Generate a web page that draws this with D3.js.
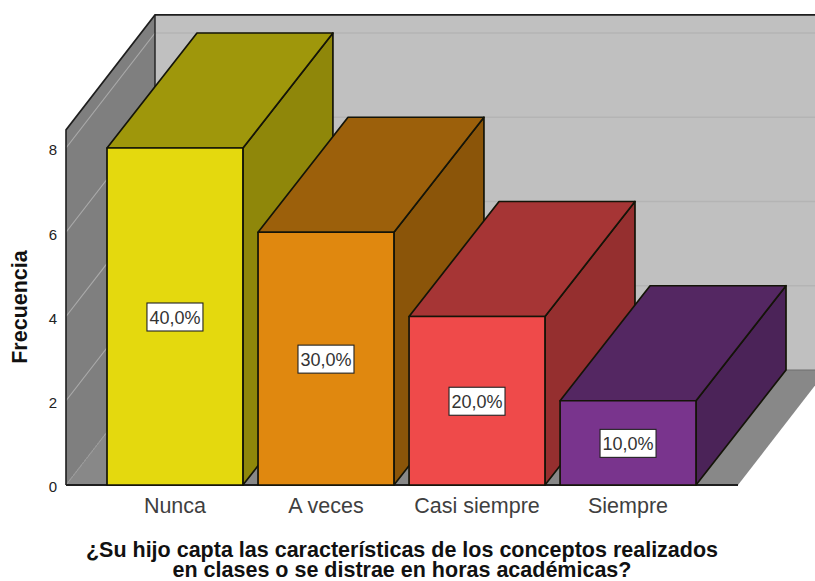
<!DOCTYPE html>
<html><head><meta charset="utf-8">
<script src="https://cdn.jsdelivr.net/npm/d3@7/dist/d3.min.js"></script>
<style>html,body{margin:0;padding:0;background:#fff}svg{display:block}text{font-family:"Liberation Sans",Arial,sans-serif}</style>
</head><body><svg id="c" width="815" height="581"></svg>
<script>
const categories = ["Nunca","A veces","Casi siempre","Siempre"];
const frequency = [8,6,4,2];
const percentLabels = ["40,0%","30,0%","20,0%","10,0%"];
const yTicks = [0,2,4,6,8];
const frontColors = ["#e4d90e","#e0880f","#ef4a4a","#79348d"];
const topColors = ["#9f970b","#9c600b","#a63535","#542762"];
const sideColors = ["#8f870a","#8b5509","#952f2f","#4b2358"];
const titleLines = ["¿Su hijo capta las características de los conceptos realizados","en clases o se distrae en horas académicas?"];

const svg = d3.select("#c");
const y = d3.scaleLinear().domain([0,8]).range([485,148]);
const x = d3.scaleBand().domain(categories).range([107,696]).paddingInner(0.1).paddingOuter(0);
const depth = {dx:89, dy:-115};
const plot = {left:66, right:738, top:8.43};
const poly = pts => pts.map(p=>p.join(",")).join(" ");
const back = ([a,b]) => [a+depth.dx,b+depth.dy];
const barBack = ([a,b]) => [a+depth.dx+1,b+depth.dy];
const dark = "#1e1e1e";

// back wall
svg.append("polygon").attr("fill","#c0c0c0")
  .attr("points",poly([back([plot.left,y(plot.top)]),back([plot.right,y(plot.top)]),back([plot.right,y(0)]),back([plot.left,y(0)])]));
// floor
svg.append("polygon").attr("fill","#888888")
  .attr("points",poly([[plot.left,y(0)],[plot.right,y(0)],back([plot.right,y(0)]),back([plot.left,y(0)])]));
// left wall
svg.append("polygon").attr("fill","#7f7f7f")
  .attr("points",poly([[plot.left,y(0)],[plot.left,y(plot.top)],back([plot.left,y(plot.top)]),back([plot.left,y(0)])]));

// gridlines
yTicks.forEach(t=>{
  const a=[plot.left,y(t)], b=back(a), c=back([plot.right,y(t)]);
  svg.append("polyline").attr("fill","none").attr("stroke",t===0?"#9a9a9a":"#aaaaaa").attr("stroke-width",1.2)
    .attr("stroke-dasharray",t===0?"2,1":null)
    .attr("points",poly([a,b]));
  if(t>0) svg.append("line").attr("stroke","#b4b4b4").attr("stroke-width",1.5)
    .attr("x1",b[0]).attr("y1",b[1]).attr("x2",c[0]).attr("y2",c[1]);
});

// frame
svg.append("polyline").attr("fill","none").attr("stroke",dark).attr("stroke-width",1.6)
  .attr("points",poly([[plot.left,y(0)],[plot.left,y(plot.top)],back([plot.left,y(plot.top)]),back([plot.right,y(plot.top)])]));
svg.append("line").attr("stroke",dark).attr("stroke-width",1.4)
  .attr("x1",back([plot.left,0])[0]).attr("x2",back([plot.left,0])[0])
  .attr("y1",y(plot.top)+depth.dy).attr("y2",y(0)+depth.dy);
svg.append("line").attr("stroke","#6e6e6e").attr("stroke-width",1.2)
  .attr("x1",back([plot.left,0])[0]).attr("x2",back([plot.right,0])[0])
  .attr("y1",y(0)+depth.dy).attr("y2",y(0)+depth.dy);
svg.append("line").attr("stroke",dark).attr("stroke-width",1.8)
  .attr("x1",plot.left).attr("x2",plot.right).attr("y1",y(0)).attr("y2",y(0));

// bars
const bars = svg.selectAll("g.bar").data(categories).join("g").attr("class","bar");
bars.each(function(c,i){
  const g=d3.select(this), x0=x(c), x1=x0+x.bandwidth(), yt=y(frequency[i]), yb=y(0);
  const st=el=>el.attr("stroke","#141408").attr("stroke-width",1.7).attr("stroke-linejoin","round");
  st(g.append("polygon")).attr("fill",sideColors[i]).attr("points",poly([[x1,yt],barBack([x1,yt]),barBack([x1,yb]),[x1,yb]]));
  st(g.append("polygon")).attr("fill",topColors[i]).attr("points",poly([[x0,yt],barBack([x0,yt]),barBack([x1,yt]),[x1,yt]]));
  st(g.append("polygon")).attr("fill",frontColors[i]).attr("points",poly([[x0,yt],[x1,yt],[x1,yb],[x0,yb]]));
});

// data labels
const lw=56, lh=28;
categories.forEach((c,i)=>{
  const cx=x(c)+x.bandwidth()/2, cy=y(frequency[i]/2);
  svg.append("rect").attr("x",cx-lw/2).attr("y",cy-lh/2+0.5).attr("width",lw).attr("height",lh)
    .attr("fill","#fff").attr("stroke","#222").attr("stroke-width",1.1);
  svg.append("text").attr("x",cx).attr("y",cy+7).attr("text-anchor","middle")
    .attr("font-size",18).attr("fill","#333").text(percentLabels[i]);
});

// axes
const ay = svg.append("g").attr("transform",`translate(${plot.left},0)`)
  .call(d3.axisLeft(y).tickValues(yTicks).tickSize(0).tickPadding(9).tickFormat(d3.format("d")));
ay.select(".domain").remove();
ay.selectAll("text").attr("font-size",15).attr("fill","#222").attr("dy","0.45em").style("font-family",'"Liberation Sans",Arial,sans-serif');
const ax = svg.append("g").attr("transform",`translate(0,${y(0)})`)
  .call(d3.axisBottom(x).tickSize(0).tickPadding(13));
ax.select(".domain").remove();
ax.selectAll("text").attr("font-size",21.5).attr("fill","#3f3f3f").style("font-family",'"Liberation Sans",Arial,sans-serif');

// titles
svg.append("text").attr("transform","translate(27,307) rotate(-90)").attr("text-anchor","middle")
  .attr("font-size",21.5).attr("font-weight","bold").attr("fill","#111").text("Frecuencia");
svg.selectAll("text.t").data(titleLines).join("text").attr("class","t")
  .attr("x",402).attr("y",(d,i)=>557+i*20).attr("text-anchor","middle")
  .attr("font-size",21.5).attr("font-weight","bold").attr("fill","#111").text(d=>d);
</script></body></html>
